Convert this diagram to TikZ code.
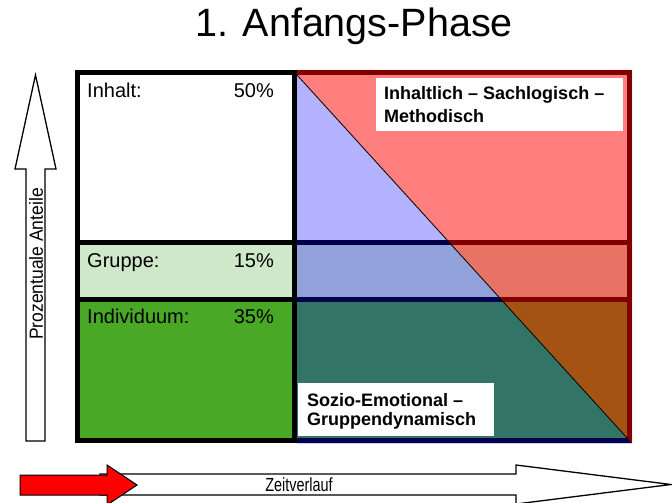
\documentclass[tikz,border=0pt]{standalone}
\usepackage{fontspec}
\setmainfont{Liberation Sans}
\definecolor{pale}{RGB}{208,232,202}
\definecolor{grass}{RGB}{73,168,38}
\begin{document}
\begin{tikzpicture}[x=1pt,y=-1pt,
  rowlbl/.style={font=\fontsize{20}{24}\selectfont, anchor=base west, inner sep=0pt},
  rowpct/.style={font=\fontsize{20}{24}\selectfont, anchor=base east, inner sep=0pt},
  frame/.style={line width=5pt},
  tagbox/.style={fill=white, draw=none, anchor=north west, inner sep=0pt},
  tagtext/.style={font=\bfseries\fontsize{18}{21}\selectfont, align=left, anchor=north west, inner sep=0pt},
  arrowshape/.style={draw=black, line width=1.3pt, line join=miter},
  arrowtext/.style={font=\fontsize{18}{21}\selectfont, inner sep=0pt}]
\useasboundingbox (0,0) rectangle (672,503);

% title
\node[font=\fontsize{39.5}{46}\selectfont, anchor=base, inner sep=0pt] (title) at (354,37) {1. Anfangs-Phase};

% three horizontal bands across the whole table
\fill[white] (77,72) rectangle (630,242);
\fill[pale]  (77,242) rectangle (630,300);
\fill[grass] (77,300) rectangle (630,441);

% table frame and dividers
\draw[frame] (77.5,72.5) rectangle (629.5,440.5);
\draw[frame] (294.5,72.5) -- (294.5,440.5);
\draw[frame] (77.5,242.5) -- (629.5,242.5);
\draw[frame] (77.5,299.5) -- (629.5,299.5);

% translucent triangles over the right column
\fill[red, opacity=0.5] (297,70) -- (632,70) -- (632,443.5) -- (297,75) -- cycle;
\fill[blue, opacity=0.3] (297,75) -- (632,443.5) -- (297,443.5) -- cycle;
\draw[line width=0.8pt] (297,75) -- (628,439);

% row labels
\node[rowlbl] (inhalt) at (87,97) {Inhalt:};
\node[rowpct] (inhaltp) at (274,97) {50\%};
\node[rowlbl] (gruppe) at (87,267) {Gruppe:};
\node[rowpct] (gruppep) at (274,267) {15\%};
\node[rowlbl] (indiv) at (87,323) {Individuum:};
\node[rowpct] (indivp) at (274,323) {35\%};

% captions of the two triangles
\node[tagbox, minimum width=247pt, minimum height=53pt] (inhbox) at (376,78) {};
\node[tagtext, font=\bfseries\fontsize{18}{22.7}\selectfont] (inhtext) at (384,86.2)
  {Inhaltlich -- Sachlogisch --\\Methodisch};
\node[tagbox, minimum width=196pt, minimum height=53pt] (sozbox) at (298,383) {};
\node[tagtext, font=\bfseries\fontsize{18}{19.5}\selectfont] (soztext) at (307,393.2)
  {Sozio-Emotional --\\Gruppendynamisch};

% vertical arrow
\draw[arrowshape, fill=white] (26,441) -- (26,169) -- (15,169) -- (35.5,75)
  -- (56,169) -- (45,169) -- (45,441) -- cycle;
\node[arrowtext, rotate=90, font=\fontsize{19}{22}\selectfont, xscale=0.92] (anteile) at (36,264) {Prozentuale Anteile};

% time arrow
\draw[arrowshape, fill=white] (100,474) -- (516,474) -- (516,465) -- (671,484.5)
  -- (516,504) -- (516,495) -- (100,495) -- cycle;
\node[arrowtext, font=\fontsize{19}{22}\selectfont, xscale=0.76] (zeit) at (299,485) {Zeitverlauf};
\draw[arrowshape, fill=red, line width=1pt] (20,475) -- (107,475) -- (107,465) -- (137,485)
  -- (107,505) -- (107,495) -- (20,495) -- cycle;
\end{tikzpicture}
\end{document}
